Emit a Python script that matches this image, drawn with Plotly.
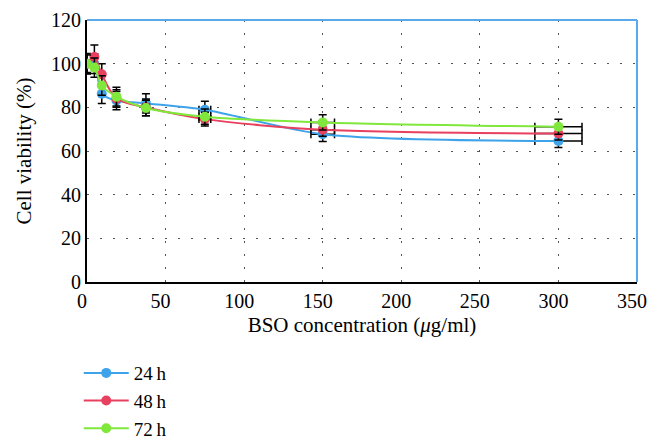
import plotly.graph_objects as go

# BSO concentrations (ug/ml)
conc = [0, 4.7, 9.4, 18.75, 37.5, 75, 150, 300]
conc_err = [0, 0.24, 0.47, 0.94, 1.9, 3.75, 7.5, 15]

# cell viability (%) and error
via_24h = [100, 100, 86.2, 83.1, 81.8, 78.9, 67.7, 64.6]
via_48h = [100, 103.1, 95.1, 84.0, 80.0, 74.6, 69.7, 68.0]
via_72h = [100, 98.2, 90.0, 84.9, 79.7, 75.7, 73.1, 71.1]
err_24h = [4.7, 4.5, 4.4, 4.2, 4.4, 3.9, 3.3, 3.0]
err_48h = [4.5, 5.4, 4.9, 4.0, 3.8, 3.1, 3.0, 3.0]
err_72h = [4.0, 4.4, 4.5, 4.3, 3.5, 3.5, 3.5, 3.4]

labels = ["24\u2009h", "48\u2009h", "72\u2009h"]
colors = ["#3fa3ea", "#e8405f", "#80e83c"]

font = "Liberation Serif"

fig = go.Figure()
for name, y, e, c in zip(labels, [via_24h, via_48h, via_72h],
                         [err_24h, err_48h, err_72h], colors):
    fig.add_trace(go.Scatter(
        x=conc, y=y, name=name, mode="lines+markers",
        line=dict(color=c, width=2, shape="spline", smoothing=0.8),
        marker=dict(color=c, size=10),
        error_y=dict(type="data", array=e, color="black", thickness=1.5, width=4),
        error_x=dict(type="data", array=conc_err, color="black", thickness=1.5, width=4),
    ))

# page body has an 8px margin all round, so the div is sized to fit inside the window
fig.update_layout(
    width=642, height=432,
    margin=dict(l=79, r=13, t=12, b=158),
    plot_bgcolor="white", paper_bgcolor="white",
    font=dict(family=font, size=20, color="black"),
    legend=dict(x=-0.015, y=0.199, xanchor="left", yanchor="top", yref="container",
                itemwidth=45, font=dict(size=19), bgcolor="rgba(0,0,0,0)"),
    xaxis=dict(range=[0, 350], tickvals=[0, 50, 100, 150, 200, 250, 300, 350],
               showline=True, linecolor="black", linewidth=2, automargin=False,
               showgrid=True, gridcolor="#555", gridwidth=1.2, griddash="2px,11px",
               zeroline=False, ticks="", ticklabeloverflow="allow", ticklabelshift=-5,
               title=dict(text="BSO concentration (<i>\u03bc</i>g/ml)", font=dict(size=21), standoff=6)),
    yaxis=dict(range=[0, 120], tickvals=[0, 20, 40, 60, 80, 100, 120],
               showline=True, linecolor="black", linewidth=2, automargin=False,
               showgrid=True, gridcolor="#555", gridwidth=1.2, griddash="2px,11px",
               zeroline=False, ticks="",
               title=dict(text="Cell viability (%)", font=dict(size=21), standoff=14)),
    shapes=[
        dict(type="line", xref="x domain", yref="y domain", x0=0, x1=1, y0=1, y1=1,
             line=dict(color="#5aa9ea", width=2)),
        dict(type="line", xref="x domain", yref="y domain", x0=1, x1=1, y0=0, y1=1,
             line=dict(color="#5aa9ea", width=2)),
    ],
)

fig.write_html("out.html")
